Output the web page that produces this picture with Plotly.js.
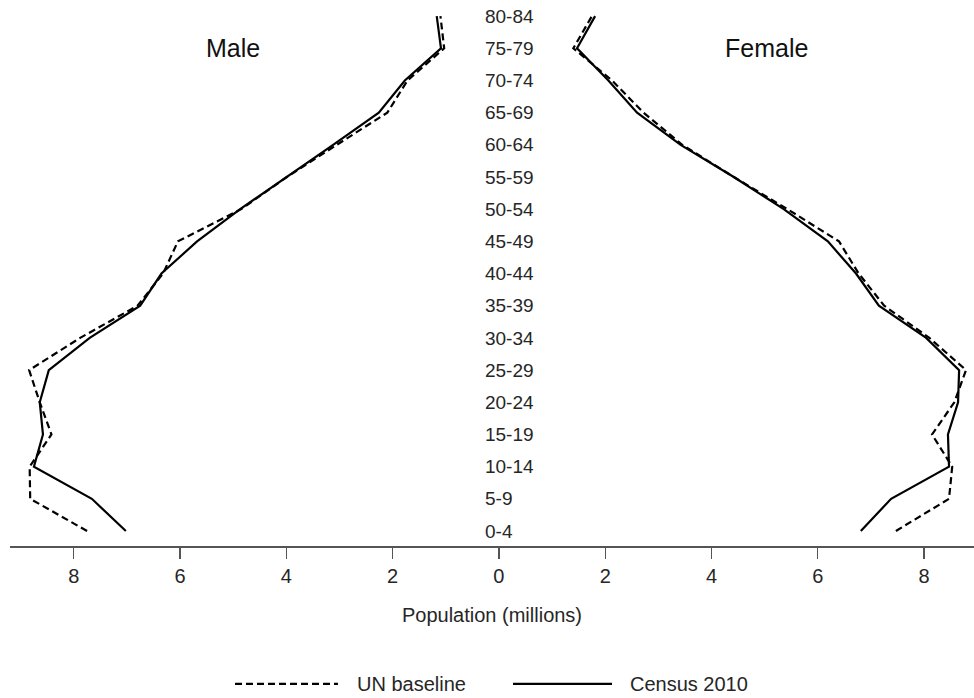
<!DOCTYPE html>
<html>
<head>
<meta charset="utf-8">
<script src="https://cdn.plot.ly/plotly-3.0.1.min.js"></script>
<style>html,body{margin:0;padding:0;background:#fff;}#chart{width:974px;height:698px;}</style>
</head>
<body>
<div id="chart"></div>
<script>
// Age groups (bottom to top)
const ageGroups = ["0-4","5-9","10-14","15-19","20-24","25-29","30-34","35-39","40-44","45-49","50-54","55-59","60-64","65-69","70-74","75-79","80-84"];
// Population in millions
const maleCensus2010   = [7.02, 7.66, 8.75, 8.58, 8.64, 8.47, 7.70, 6.75, 6.35, 5.68, 4.87, 3.99, 3.12, 2.26, 1.77, 1.09, 1.17];
const maleUNBaseline   = [7.75, 8.82, 8.83, 8.42, 8.64, 8.84, 7.88, 6.80, 6.32, 6.04, 4.85, 3.99, 3.05, 2.10, 1.72, 1.03, 1.10];
const femaleCensus2010 = [6.81, 7.38, 8.47, 8.45, 8.64, 8.66, 8.04, 7.15, 6.72, 6.19, 5.36, 4.42, 3.42, 2.60, 2.06, 1.47, 1.81];
const femaleUNBaseline = [7.47, 8.47, 8.53, 8.15, 8.57, 8.79, 8.10, 7.25, 6.77, 6.40, 5.43, 4.42, 3.45, 2.72, 2.13, 1.40, 1.75];
const tickValues = [-8, -6, -4, -2, 0, 2, 4, 6, 8];
const tickLabels = ["8", "6", "4", "2", "0", "2", "4", "6", "8"];
const seriesNames = ["UN baseline", "Census 2010"];

const FONT = "Liberation Sans, Arial, sans-serif";
const TXT = "#262626";
const dashed = {color: "#000", width: 2.2, dash: "7px,4px"};
const solid = {color: "#000", width: 2.2};
const neg = a => a.map(v => -v);

const traces = [
  {x: neg(maleUNBaseline), y: ageGroups, mode: "lines", line: dashed, name: seriesNames[0], showlegend: false},
  {x: neg(maleCensus2010), y: ageGroups, mode: "lines", line: solid, name: seriesNames[1], showlegend: false},
  {x: femaleUNBaseline, y: ageGroups, mode: "lines", line: dashed, name: seriesNames[0], showlegend: false},
  {x: femaleCensus2010, y: ageGroups, mode: "lines", line: solid, name: seriesNames[1], showlegend: false}
];

const legY = -0.2527;
const layout = {
  width: 974, height: 698,
  margin: {l: 10, r: 0, t: 0, b: 152},
  paper_bgcolor: "#fff", plot_bgcolor: "#fff",
  font: {family: FONT, color: TXT, size: 19},
  showlegend: false,
  xaxis: {
    range: [-9.2, 8.94], zeroline: false, showgrid: false,
    showline: true, linecolor: "#555", linewidth: 1.5,
    ticks: "outside", ticklen: 11, tickwidth: 1.3, tickcolor: "#555",
    tickvals: tickValues, ticktext: tickLabels,
    tickfont: {size: 20, family: FONT, color: TXT},
    title: {text: "Population (millions)", font: {size: 20, family: FONT, color: TXT}, standoff: 22},
    fixedrange: true
  },
  yaxis: {
    type: "category", categoryorder: "array", categoryarray: ageGroups,
    range: [-0.466, 16.5], showgrid: false, zeroline: false, showline: false,
    ticks: "", side: "right", anchor: "free", position: 0.4917,
    tickfont: {size: 19, family: FONT, color: TXT},
    fixedrange: true
  },
  annotations: [
    {x: -5, y: "75-79", xref: "x", yref: "y", text: "Male", showarrow: false, font: {size: 25, family: FONT, color: "#111"}},
    {x: 5.03, y: "75-79", xref: "x", yref: "y", text: "Female", showarrow: false, font: {size: 25, family: FONT, color: "#111"}},
    {x: 0.3579, y: legY, xref: "paper", yref: "paper", xanchor: "left", yanchor: "middle", text: seriesNames[0], showarrow: false, font: {size: 20, family: FONT, color: TXT}},
    {x: 0.6411, y: legY, xref: "paper", yref: "paper", xanchor: "left", yanchor: "middle", text: seriesNames[1], showarrow: false, font: {size: 20, family: FONT, color: TXT}}
  ],
  shapes: [
    {type: "line", xref: "paper", yref: "paper", x0: 0.2334, x1: 0.3402, y0: legY, y1: legY, line: {color: "#000", width: 2.2, dash: "7px,4px"}},
    {type: "line", xref: "paper", yref: "paper", x0: 0.5218, x1: 0.6245, y0: legY, y1: legY, line: {color: "#000", width: 2.2}}
  ]
};

Plotly.newPlot("chart", traces, layout, {displayModeBar: false, staticPlot: true});
</script>
</body>
</html>
